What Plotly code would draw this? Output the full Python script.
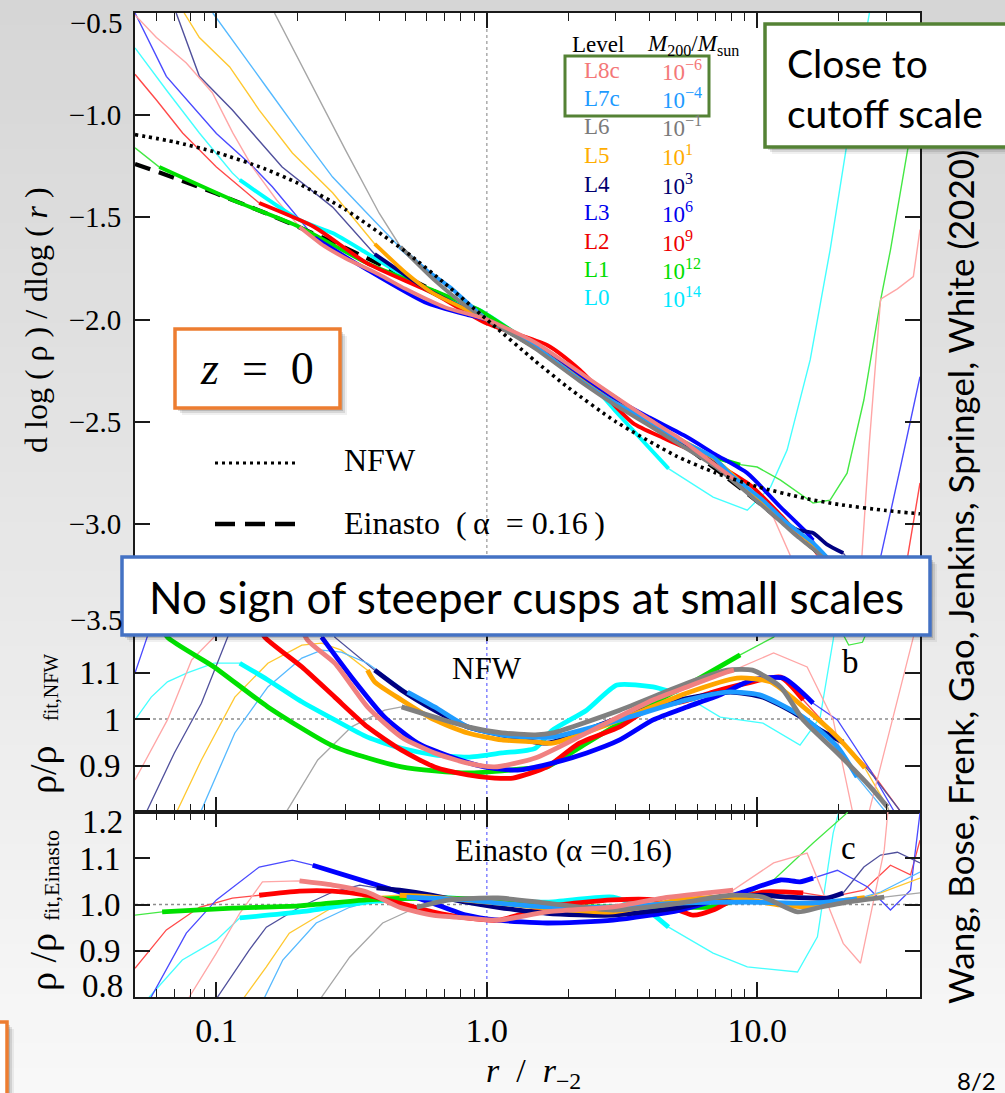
import numpy as np
import plotly.graph_objects as go

W, H = 1005, 1093

# ---------------------------------------------------------------- data
LEVELS = ["L8c", "L7c", "L6", "L5", "L4", "L3", "L2", "L1", "L0"]
MASS_EXPONENTS = ["−6", "−4", "−1", "1", "3", "6", "9", "12", "14"]
R_CONV_MIN = [0.2, 0.5, 0.48, 0.38, 0.38, 0.227, 0.144, 0.0615, 0.122]
R_CONV_MAX = [8.2, 23.4, 29.5, 25.0, 20.8, 16.1, 14.8, 8.65, 4.7]

MODEL_R = [0.05, 0.07, 0.1, 0.15, 0.2, 0.3, 0.5, 0.7, 1.0, 1.5, 2.0, 3.0, 5.0, 7.0, 10.0, 15.0, 20.0, 30.0, 40.0]
NFW_SLOPE = [-1.095, -1.131, -1.182, -1.261, -1.333, -1.462, -1.667, -1.824, -2.0, -2.2, -2.333, -2.5, -2.667, -2.75, -2.818, -2.875, -2.905, -2.935, -2.951]
EINASTO_SLOPE = [-1.239, -1.307, -1.384, -1.476, -1.546, -1.65, -1.79, -1.889, -2.0, -2.134, -2.234, -2.384, -2.587, -2.73, -2.89, -3.085, -3.23, -3.447, -3.61]

# L8c
L8C_SLOPE_R = [0.05, 0.06, 0.0774, 0.0966, 0.115, 0.136, 0.167, 0.203, 0.25, 0.3, 0.4, 0.5, 0.7, 1.0, 1.5, 2.0, 3.0, 4.0, 5.0, 6.5, 8.2, 10.0, 11.5, 13.3, 15.0, 17.0, 20.0, 24.0, 26.0, 28.6, 33.0, 37.8, 40.0]
L8C_SLOPE = [-0.51, -0.62, -0.745, -0.89, -1.087, -1.254, -1.415, -1.547, -1.64, -1.7, -1.78, -1.85, -1.94, -2.0, -2.11, -2.22, -2.38, -2.49, -2.57, -2.68, -2.78, -2.88, -2.97, -3.16, -3.4, -3.7, -3.9, -3.3, -2.6, -1.9, -1.85, -1.79, -1.56]
L8C_NFW_R = [0.05, 0.0659, 0.081, 0.098, 0.11, 0.19, 0.217, 0.274, 0.362, 0.484, 0.641, 0.851, 1.07, 1.51, 2.34, 4.12, 5.5, 7.74, 8.2, 11.5, 15.3, 19.1, 22.1, 23.5, 25.0, 26.2, 37.8, 40.0]
L8C_NFW_RATIO = [0.869, 0.998, 1.127, 1.176, 1.25, 1.25, 1.17, 1.12, 1.026, 0.961, 0.927, 0.905, 0.897, 0.916, 0.97, 1.041, 1.069, 1.101, 1.105, 1.142, 1.112, 0.998, 0.811, 0.75, 0.76, 0.811, 1.176, 1.25]
L8C_EIN_R = [0.075, 0.0794, 0.1, 0.122, 0.148, 0.203, 0.269, 0.36, 0.476, 0.63, 0.84, 1.1, 1.67, 2.93, 4.47, 8.15, 11.5, 15.3, 20.8, 24.1, 29.5, 31.0]
L8C_EIN_RATIO = [0.75, 0.8, 0.895, 0.981, 1.049, 1.051, 1.042, 1.027, 0.994, 0.977, 0.971, 0.966, 0.984, 0.995, 1.014, 1.031, 1.09, 1.111, 0.916, 0.873, 1.118, 1.25]

# L7c
L7C_SLOPE_R = [0.097, 0.122, 0.153, 0.203, 0.269, 0.36, 0.476, 0.6, 0.73, 1.0, 1.5, 2.21, 3.0, 3.91, 5.0, 6.87, 8.0, 10.5, 13.0, 16.1, 18.1, 21.0, 23.5, 30.0, 40.0]
L7C_SLOPE = [-0.5, -0.68, -0.862, -1.087, -1.303, -1.479, -1.645, -1.76, -1.841, -2.0, -2.13, -2.296, -2.41, -2.492, -2.58, -2.673, -2.76, -2.884, -3.0, -3.094, -3.163, -3.26, -3.33, -3.5, -3.7]
L7C_NFW_R = [0.08, 0.088, 0.117, 0.155, 0.207, 0.245, 0.29, 0.362, 0.509, 0.641, 0.851, 1.137, 1.51, 1.75, 3.1, 5.5, 7.74, 10.2, 14.8, 19.8, 23.4, 29.5, 32.0]
L7C_NFW_RATIO = [0.7, 0.804, 0.97, 1.069, 1.131, 1.148, 1.144, 1.12, 1.058, 1.026, 0.983, 0.966, 0.961, 0.961, 0.998, 1.041, 1.058, 1.052, 1.004, 0.94, 0.875, 0.804, 0.76]
L7C_EIN_R = [0.14, 0.151, 0.176, 0.234, 0.311, 0.412, 0.505, 0.84, 1.1, 1.67, 2.93, 5.19, 9.19, 16.1, 23.4, 28.6, 40.0]
L7C_EIN_RATIO = [0.75, 0.8, 0.88, 0.96, 0.994, 1.014, 1.016, 1.01, 1.003, 0.995, 0.995, 1.003, 1.005, 1.003, 1.012, 1.027, 1.07]

# L6
L6_SLOPE_R = [0.164, 0.2, 0.25, 0.3, 0.4, 0.48, 0.64, 0.85, 1.0, 1.5, 2.2, 3.0, 4.0, 5.0, 7.0, 10.0, 12.0, 14.0, 16.0, 18.0, 21.0, 25.0, 30.0, 40.0]
L6_SLOPE = [-0.5, -0.72, -0.96, -1.17, -1.48, -1.645, -1.807, -1.94, -2.0, -2.14, -2.3, -2.42, -2.52, -2.6, -2.72, -2.89, -2.98, -3.06, -3.12, -3.18, -3.27, -3.38, -3.5, -3.7]
L6_NFW_R = [0.16, 0.183, 0.237, 0.316, 0.419, 0.484, 0.641, 0.851, 1.137, 1.51, 1.75, 3.1, 5.5, 7.74, 9.6, 12.2, 14.8, 19.8, 26.2, 30.3, 33.0]
L6_NFW_RATIO = [0.72, 0.804, 0.912, 0.983, 1.019, 1.026, 1.004, 0.983, 0.97, 0.966, 0.97, 1.019, 1.077, 1.105, 1.105, 1.069, 0.998, 0.927, 0.854, 0.811, 0.76]
L6_EIN_R = [0.22, 0.245, 0.311, 0.412, 0.551, 0.73, 1.1, 1.67, 2.93, 5.19, 7.95, 10.5, 14.1, 17.1, 21.5, 29.5, 40.0]
L6_EIN_RATIO = [0.72, 0.8, 0.886, 0.96, 0.994, 1.01, 1.014, 1.003, 0.988, 1.003, 1.02, 1.016, 0.984, 0.994, 1.005, 1.016, 1.025]

# L5
L5_SLOPE_R = [0.076, 0.0865, 0.112, 0.144, 0.191, 0.269, 0.385, 0.5, 0.63, 1.0, 1.5, 2.2, 3.0, 4.0, 5.0, 6.9, 10.0, 13.0, 16.0, 20.0, 25.0, 30.0, 40.0]
L5_SLOPE = [-0.5, -0.62, -0.764, -0.975, -1.185, -1.38, -1.63, -1.77, -1.87, -2.0, -2.13, -2.29, -2.41, -2.49, -2.575, -2.68, -2.87, -3.0, -3.1, -3.22, -3.36, -3.48, -3.7]
L5_NFW_R = [0.065, 0.0718, 0.088, 0.117, 0.155, 0.207, 0.245, 0.29, 0.362, 0.385, 0.484, 0.641, 0.851, 1.137, 1.51, 1.75, 3.1, 5.5, 8.43, 11.2, 14.8, 19.8, 25.0, 30.3, 33.0]
L5_NFW_RATIO = [0.7, 0.804, 0.912, 1.047, 1.12, 1.159, 1.163, 1.148, 1.105, 1.08, 1.041, 0.998, 0.97, 0.955, 0.951, 0.948, 0.998, 1.056, 1.088, 1.08, 1.026, 0.961, 0.895, 0.811, 0.75]
L5_EIN_R = [0.11, 0.127, 0.153, 0.186, 0.269, 0.36, 0.476, 0.63, 1.1, 1.67, 2.93, 5.19, 7.95, 12.2, 16.1, 21.5, 25.0, 28.6, 40.0]
L5_EIN_RATIO = [0.72, 0.8, 0.865, 0.938, 0.994, 1.016, 1.02, 1.016, 1.003, 0.992, 0.984, 1.01, 1.016, 0.999, 0.995, 1.01, 1.015, 1.025, 1.057]

# L4
L4_SLOPE_R = [0.071, 0.0865, 0.1146, 0.175, 0.269, 0.385, 0.615, 1.0, 1.5, 2.2, 3.0, 4.0, 5.0, 6.9, 10.0, 12.0, 14.1, 16.1, 18.1, 20.8, 25.0, 30.0, 40.0]
L4_SLOPE = [-0.5, -0.81, -0.975, -1.254, -1.45, -1.68, -1.86, -2.0, -2.13, -2.29, -2.41, -2.49, -2.58, -2.69, -2.88, -2.97, -3.03, -3.045, -3.1, -3.143, -3.28, -3.45, -3.7]
L4_NFW_R = [0.05, 0.0555, 0.0699, 0.088, 0.11, 0.13, 0.25, 0.274, 0.385, 0.484, 0.641, 0.851, 1.137, 1.67, 2.93, 5.19, 7.95, 10.5, 14.0, 17.1, 20.8, 22.7, 27.1, 33.6, 36.0]
L4_NFW_RATIO = [0.7, 0.804, 0.927, 1.034, 1.176, 1.3, 1.3, 1.176, 1.105, 1.062, 1.019, 0.983, 0.966, 0.948, 0.998, 1.041, 1.058, 1.047, 1.01, 0.976, 0.95, 0.927, 0.875, 0.804, 0.75]
L4_EIN_R = [0.09, 0.101, 0.132, 0.153, 0.203, 0.269, 0.339, 0.391, 0.476, 0.63, 0.84, 1.1, 1.67, 2.93, 5.19, 7.95, 10.5, 12.9, 18.1, 20.8, 24.8, 28.6, 33.0, 40.0]
L4_EIN_RATIO = [0.72, 0.8, 0.901, 0.951, 0.994, 1.027, 1.042, 1.036, 1.031, 1.02, 1.005, 0.994, 0.981, 0.977, 0.994, 1.016, 1.02, 1.016, 1.014, 1.025, 1.081, 1.107, 1.113, 1.09]

# L3
L3_SLOPE_R = [0.05, 0.0653, 0.1, 0.136, 0.161, 0.2, 0.231, 0.362, 0.589, 0.851, 1.0, 1.5, 2.2, 3.0, 4.0, 5.5, 7.0, 9.19, 12.2, 14.9, 16.1, 20.0, 24.0, 28.6, 33.9, 40.0]
L3_SLOPE = [-0.5, -0.81, -1.09, -1.25, -1.35, -1.5, -1.6, -1.758, -1.915, -1.978, -2.0, -2.12, -2.27, -2.39, -2.48, -2.575, -2.66, -2.752, -2.918, -3.03, -3.08, -3.3, -3.45, -3.163, -2.72, -2.28]
L3_NFW_R = [0.05, 0.0555, 0.07, 0.2, 0.245, 0.316, 0.419, 0.555, 0.741, 0.977, 1.3, 1.75, 2.34, 3.1, 4.12, 5.5, 7.3, 9.6, 12.5, 16.1, 19.8, 26.2, 31.9, 34.0]
L3_NFW_RATIO = [1.099, 1.176, 1.35, 1.3, 1.176, 1.09, 1.004, 0.948, 0.918, 0.897, 0.89, 0.905, 0.927, 0.955, 0.998, 1.026, 1.052, 1.084, 1.088, 1.034, 0.998, 0.89, 0.804, 0.75]
L3_EIN_R = [0.053, 0.0574, 0.0774, 0.1, 0.144, 0.191, 0.227, 0.36, 0.476, 0.63, 0.84, 1.1, 1.67, 2.93, 5.19, 8.65, 12.2, 14.4, 16.1, 19.8, 25.6, 31.1, 36.9, 40.0]
L3_EIN_RATIO = [0.72, 0.8, 0.938, 1.01, 1.081, 1.096, 1.085, 1.049, 1.027, 1.003, 0.977, 0.966, 0.96, 0.966, 0.988, 1.025, 1.053, 1.049, 1.057, 1.074, 1.038, 0.988, 1.031, 1.198]

# L2
L2_SLOPE_R = [0.05, 0.06, 0.075, 0.1, 0.144, 0.23, 0.36, 0.63, 1.0, 1.67, 2.21, 3.47, 4.5, 6.15, 9.42, 12.2, 14.8, 16.1, 20.0, 25.0, 30.0, 33.0, 36.0, 40.0]
L2_SLOPE = [-0.8, -0.926, -1.087, -1.254, -1.43, -1.547, -1.724, -1.87, -2.02, -2.125, -2.247, -2.507, -2.58, -2.663, -2.81, -2.957, -3.08, -3.128, -3.3, -3.45, -3.6, -3.5, -3.16, -2.8]
L2_NFW_R = [0.1, 0.13, 0.144, 0.151, 0.207, 0.274, 0.362, 0.484, 0.641, 0.851, 1.07, 1.25, 1.67, 2.2, 3.1, 3.91, 5.5, 6.87, 9.19, 12.2, 14.8, 19.8, 26.2, 33.6, 36.0]
L2_NFW_RATIO = [1.4, 1.25, 1.2, 1.176, 1.112, 1.047, 0.983, 0.933, 0.897, 0.88, 0.873, 0.873, 0.897, 0.948, 0.983, 1.019, 1.04, 1.058, 1.077, 1.09, 1.041, 0.961, 0.89, 0.804, 0.75]
L2_EIN_R = [0.05, 0.0653, 0.0865, 0.1146, 0.144, 0.203, 0.269, 0.36, 0.476, 0.63, 0.84, 1.1, 1.67, 2.93, 4.12, 5.79, 6.87, 8.15, 10.5, 14.8, 18.6, 24.8, 31.1, 36.9, 40.0]
L2_EIN_RATIO = [0.862, 0.945, 0.994, 1.014, 1.02, 1.029, 1.029, 1.02, 1.003, 0.984, 0.971, 0.966, 0.995, 1.01, 1.01, 0.977, 0.988, 1.01, 1.027, 1.025, 1.016, 1.031, 1.085, 1.064, 1.139]

# L1
L1_SLOPE_R = [0.05, 0.0615, 0.1146, 0.203, 0.36, 0.63, 0.94, 1.5, 2.2, 3.0, 4.64, 6.5, 8.65, 10.0, 12.2, 16.1, 18.6, 21.5, 24.8, 28.6, 31.1, 36.9, 40.0]
L1_SLOPE = [-1.16, -1.254, -1.415, -1.547, -1.724, -1.856, -1.954, -2.13, -2.27, -2.41, -2.556, -2.66, -2.71, -2.722, -2.786, -2.898, -2.884, -2.752, -2.394, -1.905, -1.66, -1.087, -0.83]
L1_NFW_R = [0.05, 0.0615, 0.0659, 0.098, 0.155, 0.274, 0.484, 0.851, 1.51, 1.67, 2.34, 3.1, 4.12, 5.79, 8.65, 11.5, 13.0, 18.0, 20.0, 21.8, 24.5, 26.0, 28.0]
L1_NFW_RATIO = [1.3, 1.21, 1.176, 1.112, 1.026, 0.94, 0.897, 0.884, 0.895, 0.897, 0.948, 0.991, 1.034, 1.08, 1.138, 1.176, 1.22, 1.25, 1.2, 1.159, 1.165, 1.2, 1.3]
L1_EIN_R = [0.05, 0.063, 0.1146, 0.203, 0.36, 0.63, 1.1, 1.25, 2.2, 4.0, 6.87, 8.4, 11.5, 16.1, 21.5, 23.0]
L1_EIN_RATIO = [0.977, 0.984, 0.992, 0.997, 1.01, 1.014, 1.01, 1.003, 0.995, 0.995, 0.995, 1.01, 1.053, 1.133, 1.198, 1.25]

# L0
L0_SLOPE_R = [0.05, 0.0653, 0.0865, 0.1146, 0.122, 0.203, 0.269, 0.36, 0.63, 0.94, 1.5, 2.41, 3.0, 3.69, 4.7, 6.87, 9.19, 11.2, 12.9, 15.7, 18.6, 21.5, 26.0]
L0_SLOPE = [-0.671, -0.877, -1.087, -1.283, -1.317, -1.513, -1.577, -1.675, -1.87, -1.954, -2.13, -2.311, -2.45, -2.58, -2.73, -2.869, -2.933, -2.82, -2.639, -2.198, -1.66, -1.136, -0.5]
L0_NFW_R = [0.05, 0.0574, 0.0659, 0.078, 0.098, 0.122, 0.155, 0.207, 0.274, 0.362, 0.484, 0.641, 0.851, 1.137, 1.51, 1.75, 2.34, 3.03, 4.12, 4.7, 5.5, 7.3, 10.5, 14.4, 17.1, 19.1, 20.5]
L0_NFW_RATIO = [0.998, 1.047, 1.08, 1.099, 1.12, 1.12, 1.084, 1.037, 0.998, 0.961, 0.937, 0.923, 0.918, 0.927, 0.937, 0.976, 1.019, 1.073, 1.069, 1.06, 1.047, 1.004, 0.991, 0.944, 1.004, 1.17, 1.3]
L0_EIN_R = [0.05, 0.0565, 0.0748, 0.1, 0.122, 0.203, 0.36, 0.63, 0.94, 1.67, 2.93, 3.91, 4.7, 6.87, 9.19, 14.1, 16.7, 19.1, 20.0]
L0_EIN_RATIO = [0.75, 0.8, 0.88, 0.923, 0.971, 0.984, 1.005, 1.016, 1.01, 1.005, 1.016, 0.988, 0.951, 0.895, 0.865, 0.854, 0.93, 1.155, 1.198]

X_TICKS = [0.1, 1.0, 10.0]
X_TICK_TEXT = ["0.1", "1.0", "10.0"]
X_MINOR = [0.05, 0.06, 0.07, 0.08, 0.09, 0.2, 0.3, 0.4, 0.5, 0.6, 0.7, 0.8, 0.9,
           2, 3, 4, 5, 6, 7, 8, 9, 20, 30, 40]
X_LIMITS = [0.05, 40.0]
TOP_Y_TICKS = [-3.0, -2.5, -2.0, -1.5, -1.0]
TOP_Y_TEXT = ["−3.0", "−2.5", "−2.0", "−1.5", "−1.0"]
MID_Y_TICKS = [0.9, 1.0, 1.1]
MID_Y_TEXT = ["0.9", "1", "1.1"]
BOT_Y_TICKS = [0.9, 1.0, 1.1]
BOT_Y_TEXT = ["0.9", "1.0", "1.1"]

# ---------------------------------------------------------------- tables built from the lists
SLOPE_R = [L8C_SLOPE_R, L7C_SLOPE_R, L6_SLOPE_R, L5_SLOPE_R, L4_SLOPE_R, L3_SLOPE_R, L2_SLOPE_R, L1_SLOPE_R, L0_SLOPE_R]
SLOPE_V = [L8C_SLOPE, L7C_SLOPE, L6_SLOPE, L5_SLOPE, L4_SLOPE, L3_SLOPE, L2_SLOPE, L1_SLOPE, L0_SLOPE]
NFWR_R = [L8C_NFW_R, L7C_NFW_R, L6_NFW_R, L5_NFW_R, L4_NFW_R, L3_NFW_R, L2_NFW_R, L1_NFW_R, L0_NFW_R]
NFWR_V = [L8C_NFW_RATIO, L7C_NFW_RATIO, L6_NFW_RATIO, L5_NFW_RATIO, L4_NFW_RATIO, L3_NFW_RATIO, L2_NFW_RATIO, L1_NFW_RATIO, L0_NFW_RATIO]
EINR_R = [L8C_EIN_R, L7C_EIN_R, L6_EIN_R, L5_EIN_R, L4_EIN_R, L3_EIN_R, L2_EIN_R, L1_EIN_R, L0_EIN_R]
EINR_V = [L8C_EIN_RATIO, L7C_EIN_RATIO, L6_EIN_RATIO, L5_EIN_RATIO, L4_EIN_RATIO, L3_EIN_RATIO, L2_EIN_RATIO, L1_EIN_RATIO, L0_EIN_RATIO]

# ---------------------------------------------------------------- styles
THICK_COLORS = ["#f08080", "#1e9bff", "#808080", "#ffa500", "#000080", "#0000ff", "#ff0000", "#00e000", "#00ffff"]
THIN_COLORS = ["#ffa6a6", "#55b9ff", "#a6a6a6", "#ffc830", "#50509c", "#4a4aff", "#ff4a4a", "#44e844", "#44ffff"]
LABEL_COLORS = ["#f47878", "#1e9bff", "#7a7a7a", "#ffad00", "#000070", "#0000ee", "#ee0000", "#00dd00", "#00e8ff"]
DRAW_ORDER = [8, 7, 6, 5, 4, 3, 1, 2, 0]
SERIF = "Liberation Serif, Times New Roman, serif"
SANS = "Lato, Open Sans, sans-serif"
AXIS_COLOR = "#1a1a1a"


def X(px):
    return px / W


def Y(py):
    return 1 - py / H


def converged(rs, vs, lo, hi):
    pts = [(r, v) for r, v in zip(rs, vs) if lo * 0.95 <= r <= hi * 1.05]
    return [p[0] for p in pts], [p[1] for p in pts]


fig = go.Figure()


def add_line(x, y, xa, ya, color, width, dash=None, shape="linear"):
    ln = dict(color=color, width=width, shape=shape)
    if dash:
        ln["dash"] = dash
    if shape == "spline":
        ln["smoothing"] = 0.6
    fig.add_trace(go.Scatter(x=x, y=y, xaxis=xa, yaxis=ya, mode="lines", line=ln,
                             hoverinfo="skip", showlegend=False))


PANELS = [
    dict(xa="x", ya="y", R=SLOPE_R, V=SLOPE_V, thick=3.9, thin=1.4, yr=(-3.5, -0.5)),
    dict(xa="x2", ya="y2", R=NFWR_R, V=NFWR_V, thick=4.8, thin=1.3, yr=(0.8, 1.2)),
    dict(xa="x3", ya="y3", R=EINR_R, V=EINR_V, thick=4.8, thin=1.3, yr=(0.8, 1.2)),
]

for k, p in enumerate(PANELS):
    vcol = "#b0b0b0" if k == 0 else "#8a8aff"
    add_line([1.0, 1.0], list(p["yr"]), p["xa"], p["ya"], vcol, 1.6, dash="dot")
    if k > 0:
        add_line(X_LIMITS, [1.0, 1.0], p["xa"], p["ya"], "#8c8c8c", 1.5, dash="dot")
    for i in DRAW_ORDER:
        add_line(p["R"][i], p["V"][i], p["xa"], p["ya"], THIN_COLORS[i], p["thin"])
    if k == 0:
        add_line(MODEL_R, EINASTO_SLOPE, "x", "y", "black", 4.2, dash="16px,9px", shape="spline")
    for i in DRAW_ORDER:
        tx, ty = converged(p["R"][i], p["V"][i], R_CONV_MIN[i], R_CONV_MAX[i])
        add_line(tx, ty, p["xa"], p["ya"], THICK_COLORS[i], p["thick"], shape="spline")
    if k == 0:
        add_line(MODEL_R, NFW_SLOPE, "x", "y", "black", 3.6, dash="3px,4px", shape="spline")

# ---------------------------------------------------------------- axes
XDOM = [X(135), X(920)]


def xaxis(anchor, labels):
    return dict(type="log", range=[np.log10(X_LIMITS[0]), np.log10(X_LIMITS[1])], domain=XDOM,
                anchor=anchor, showline=True, linecolor=AXIS_COLOR, linewidth=1.8, mirror="ticks",
                ticks="inside", ticklen=15, tickwidth=1.5, tickcolor=AXIS_COLOR,
                tickvals=X_TICKS, ticktext=X_TICK_TEXT, showticklabels=labels,
                minor=dict(ticks="inside", ticklen=8, tickwidth=1.3, tickcolor=AXIS_COLOR,
                           tickvals=X_MINOR, showgrid=False),
                showgrid=False, zeroline=False, ticklabelstandoff=2,
                tickfont=dict(family=SERIF, size=34, color="black"))


def yaxis(anchor, dom, rng, vals, text, size):
    return dict(domain=dom, anchor=anchor, range=list(rng), showline=True, linecolor=AXIS_COLOR,
                linewidth=1.8, mirror="ticks", ticks="inside", ticklen=15, tickwidth=1.5,
                tickcolor=AXIS_COLOR, tickvals=vals, ticktext=text, showgrid=False,
                zeroline=False, ticklabelstandoff=6,
                tickfont=dict(family=SERIF, size=size, color="black"))


# ---------------------------------------------------------------- shapes
shapes = []
N = 44
for i in range(N):
    t = i / (N - 1)
    c = int(round(214 + (248 - 214) * t))
    shapes.append(dict(type="rect", xref="paper", yref="paper", x0=0, x1=1,
                       y0=1 - (i + 1) / N - 0.002, y1=1 - i / N,
                       fillcolor=f"rgb({c},{c},{c})", line=dict(width=0), layer="below"))
shapes.append(dict(type="rect", xref="paper", yref="paper", x0=X(135), x1=X(920), y0=Y(997), y1=Y(13),
                   fillcolor="white", line=dict(width=0), layer="below"))

shapes.append(dict(type="line", xref="paper", yref="paper", x0=X(215), x1=X(296), y0=Y(463), y1=Y(463),
                   line=dict(color="black", width=3.2, dash="3px,4px"), layer="above"))
shapes.append(dict(type="line", xref="paper", yref="paper", x0=X(215), x1=X(296), y0=Y(524), y1=Y(524),
                   line=dict(color="black", width=4.5, dash="20px,10px"), layer="above"))


def box(x0, y0, x1, y1, color, fill="white", shadow=True, lw=3.5):
    if shadow:
        for off, a in ((7, 0.06), (5, 0.10), (3, 0.14)):
            shapes.append(dict(type="rect", xref="paper", yref="paper", x0=X(x0 + off), x1=X(x1 + off),
                               y0=Y(y1 + off), y1=Y(y0 + off), fillcolor=f"rgba(0,0,0,{a})",
                               line=dict(width=0), layer="above"))
    shapes.append(dict(type="rect", xref="paper", yref="paper", x0=X(x0), x1=X(x1), y0=Y(y1), y1=Y(y0),
                       fillcolor=fill, line=dict(color=color, width=lw), layer="above"))


box(175, 329, 340, 408, "#ed7d31")
box(122, 557, 930, 635, "#4472c4")
box(765, 24, 1014, 147, "#548235")
box(-30, 1022, 7, 1115, "#ed7d31")
box(565, 56, 709, 116, "#548235", fill="rgba(0,0,0,0)", shadow=False, lw=3)

# ---------------------------------------------------------------- annotations
anns = []


def ann(text, px, py, size, family=SERIF, color="black", xanchor="center", angle=0, **kw):
    d = dict(text=text, x=X(px), y=Y(py), xref="paper", yref="paper", showarrow=False,
             xanchor=xanchor, yanchor="middle", textangle=angle,
             font=dict(family=family, size=size, color=color))
    d.update(kw)
    anns.append(d)


def edge_label(text, yref, yval, shift, size):
    anns.append(dict(text=text, xref="paper", yref=yref, x=X(125), y=yval, yshift=shift,
                     showarrow=False, xanchor="right", yanchor="middle",
                     font=dict(family=SERIF, size=size, color="black")))


edge_label("−0.5", "y", -0.5, -10, 29)
edge_label("−3.5", "y", -3.5, 6, 29)
edge_label("1.2", "y3", 1.2, -10, 33)
edge_label("0.8", "y3", 0.8, 11, 33)

ann("d log ( ρ ) / dlog ( <i>r</i> )", 36, 320, 32, angle=-90)
ann("ρ/ρ", 43, 770, 38, angle=-90)
ann("fit,NFW", 51, 688, 20, angle=-90)
ann("ρ /ρ", 43, 962, 38, angle=-90)
ann("fit,Einasto", 51, 876, 22, angle=-90)
ann("<i>r</i>\u2002/\u2002<i>r</i><sub>−2</sub>", 533, 1073, 34)

ann("Level", 570, 45, 23, xanchor="left")
ann("<i>M</i><sub>200</sub>/<i>M</i><sub>sun</sub>", 645, 45, 23, xanchor="left")
for i, (lev, ex) in enumerate(zip(LEVELS, MASS_EXPONENTS)):
    yy = 70 + i * 28.5
    ann(lev, 582, yy, 23, color=LABEL_COLORS[i], xanchor="left")
    ann(f"10<sup>{ex}</sup>", 660, yy, 23, color=LABEL_COLORS[i], xanchor="left")

ann("NFW", 342, 460, 32, xanchor="left")
ann("Einasto\u2002(\u2009α\u2002= 0.16\u2009)", 342, 523, 32, xanchor="left")

ann("NFW", 487, 668, 31)
ann("b", 850, 662, 33)
ann("Einasto (α =0.16)", 563, 850, 31)
ann("c", 848, 848, 33)

ann("Close to", 785, 63, 39, family=SANS, xanchor="left")
ann("cutoff scale", 785, 113, 39, family=SANS, xanchor="left")
ann("No sign of steeper cusps at small scales", 526, 597, 44, family=SANS)
ann("<i>z</i>\u2002=\u20020", 257, 368, 46)
ann("Wang, Bose, Frenk, Gao, Jenkins, Springel, White (2020)", 960, 577, 35, family=SANS, angle=-90)
ann("8/2", 998, 1080, 24, family=SANS, xanchor="right")

fig.update_layout(
    width=W, height=H, margin=dict(l=0, r=0, t=0, b=0, pad=0),
    paper_bgcolor="#e4e4e4", plot_bgcolor="rgba(0,0,0,0)", showlegend=False,
    xaxis=xaxis("y", False), xaxis2=xaxis("y2", False), xaxis3=xaxis("y3", True),
    yaxis=yaxis("x", [Y(626), Y(13)], (-3.5, -0.5), TOP_Y_TICKS, TOP_Y_TEXT, 29),
    yaxis2=yaxis("x2", [Y(812), Y(626)], (0.8, 1.2), MID_Y_TICKS, MID_Y_TEXT, 33),
    yaxis3=yaxis("x3", [Y(997), Y(812)], (0.8, 1.2), BOT_Y_TICKS, BOT_Y_TEXT, 33),
    shapes=shapes, annotations=anns,
)

fig.write_html("out.html")
